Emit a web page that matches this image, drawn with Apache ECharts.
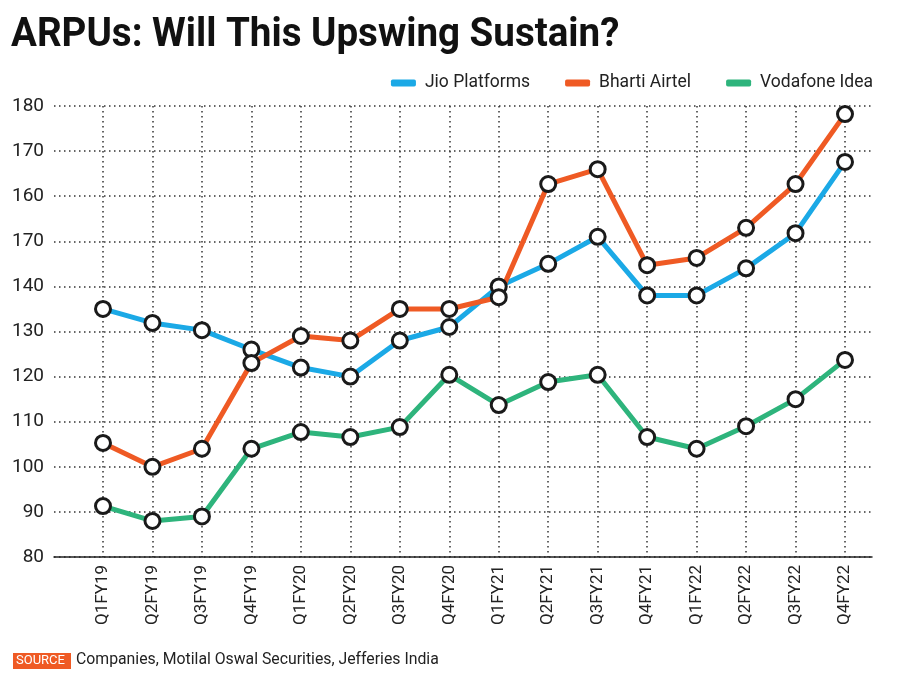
<!DOCTYPE html>
<html>
<head>
<meta charset="utf-8">
<script src="https://cdn.jsdelivr.net/npm/echarts@6/dist/echarts.min.js"></script>
<style>html,body{margin:0;padding:0;background:#fff;}#c{width:900px;height:696px;}</style>
</head>
<body>
<div id="c"></div>
<script>
var categories = ['Q1FY19','Q2FY19','Q3FY19','Q4FY19','Q1FY20','Q2FY20','Q3FY20','Q4FY20','Q1FY21','Q2FY21','Q3FY21','Q4FY21','Q1FY22','Q2FY22','Q3FY22','Q4FY22'];
var jio = [135, 131.9, 130.3, 126, 122, 120, 128, 131, 140, 145, 151, 138, 138, 144, 151.8, 167.6];
var airtel = [105.3, 100, 104, 123, 129, 128, 135, 135, 137.6, 162.7, 166, 144.7, 146.3, 153, 162.7, 178.2];
var vodafone = [91.3, 88, 89, 104, 107.7, 106.6, 108.8, 120.4, 113.7, 118.8, 120.4, 106.6, 104, 109, 115, 123.7];
var yTickLabels = ['80','90','100','110','120','130','140','170','160','170','180'];
var seriesNames = ['Jio Platforms','Bharti Airtel','Vodafone Idea'];
var colors = ['#1ba9e6','#ef5a24','#2eb47c'];

var chart = echarts.init(document.getElementById('c'));
var dotted = {show:true, lineStyle:{type:[1.5,3.5], color:'#333', width:1.5}};
function mkSeries(name, data, color){
  return {
    name:name, type:'line', data:data, xAxisIndex:1, yAxisIndex:1,
    symbol:'circle', symbolSize:15,
    lineStyle:{width:5, color:color},
    itemStyle:{color:'#fff', borderColor:'#1a1a1a', borderWidth:3},
    emphasis:{disabled:true}
  };
}
chart.setOption({
  animation:false,
  legend:{
    data:seriesNames.map(function(n,i){return {name:n, itemStyle:{color:colors[i], borderWidth:0}};}),
    right:22, top:69, itemWidth:25, itemHeight:7, itemGap:35, icon:'roundRect',
    textStyle:{fontFamily:'Roboto', fontSize:17.5, color:'#222', padding:[0,0,0,4]}
  },
  grid:[
    {left:54, right:28, top:106, bottom:139},
    {left:103, right:55, top:106, bottom:139}
  ],
  xAxis:[
    {type:'value', gridIndex:0, min:0, max:1, axisLine:{show:true, onZero:false, lineStyle:{color:'#222', width:1.5}},
     axisTick:{show:false}, axisLabel:{show:false}, splitLine:{show:false}},
    {type:'category', gridIndex:1, data:categories, boundaryGap:false,
     axisLine:{show:false}, axisTick:{show:false},
     axisLabel:{rotate:90, margin:8, fontFamily:'Roboto', fontSize:17, color:'#222'},
     splitLine:dotted}
  ],
  yAxis:[
    {type:'value', gridIndex:0, min:80, max:180, interval:10,
     axisLine:{show:false}, axisTick:{show:false},
     axisLabel:{margin:10, fontFamily:'Roboto', fontSize:19, color:'#222',
       formatter:function(v){return yTickLabels[Math.round((v-80)/10)];}},
     splitLine:dotted},
    {type:'value', gridIndex:1, min:80, max:180, interval:10, show:false, splitLine:{show:false}}
  ],
  graphic:[
    {type:'text', left:11, top:15, scaleX:0.94,
     style:{text:'ARPUs: Will This Upswing Sustain?', fill:'#111', font:'bold 41px Roboto'}},
    {type:'rect', left:13, top:653, shape:{width:58, height:16}, style:{fill:'#ef5a24'}},
    {type:'text', left:16, top:654, style:{text:'SOURCE', fill:'#fff', font:'13px Roboto'}},
    {type:'text', left:76, top:652, style:{text:'Companies, Motilal Oswal Securities, Jefferies India', fill:'#222', font:'15.8px Roboto'}}
  ],
  series:[
    mkSeries(seriesNames[0], jio, colors[0]),
    mkSeries(seriesNames[1], airtel, colors[1]),
    mkSeries(seriesNames[2], vodafone, colors[2])
  ]
});
</script>
</body>
</html>
